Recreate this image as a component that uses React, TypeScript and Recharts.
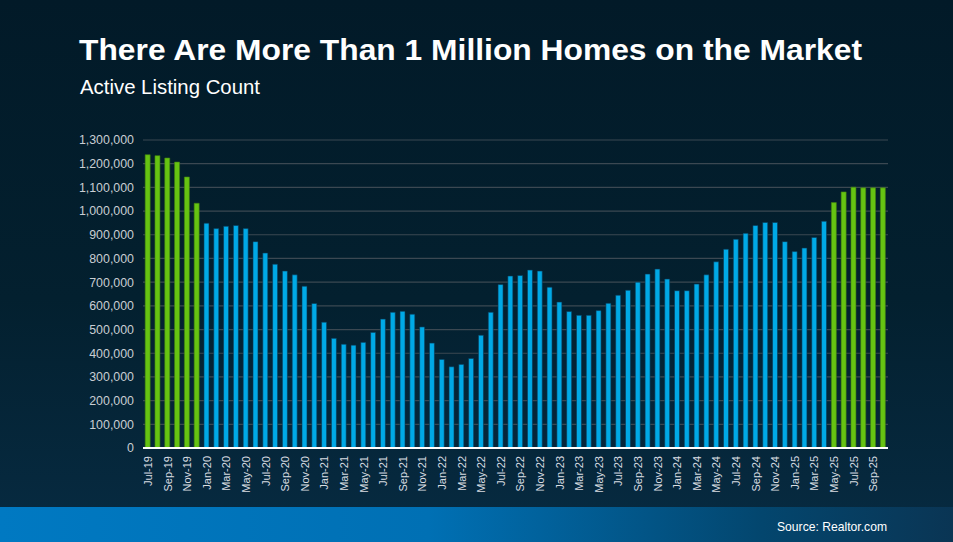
import { BarChart, Bar, XAxis, YAxis, CartesianGrid, Cell, ReferenceLine } from 'recharts';

// Months from Jul-19 to Oct-25
const months = [
  'Jul-19', 'Aug-19', 'Sep-19', 'Oct-19', 'Nov-19', 'Dec-19',
  'Jan-20', 'Feb-20', 'Mar-20', 'Apr-20', 'May-20', 'Jun-20', 'Jul-20', 'Aug-20', 'Sep-20', 'Oct-20', 'Nov-20', 'Dec-20',
  'Jan-21', 'Feb-21', 'Mar-21', 'Apr-21', 'May-21', 'Jun-21', 'Jul-21', 'Aug-21', 'Sep-21', 'Oct-21', 'Nov-21', 'Dec-21',
  'Jan-22', 'Feb-22', 'Mar-22', 'Apr-22', 'May-22', 'Jun-22', 'Jul-22', 'Aug-22', 'Sep-22', 'Oct-22', 'Nov-22', 'Dec-22',
  'Jan-23', 'Feb-23', 'Mar-23', 'Apr-23', 'May-23', 'Jun-23', 'Jul-23', 'Aug-23', 'Sep-23', 'Oct-23', 'Nov-23', 'Dec-23',
  'Jan-24', 'Feb-24', 'Mar-24', 'Apr-24', 'May-24', 'Jun-24', 'Jul-24', 'Aug-24', 'Sep-24', 'Oct-24', 'Nov-24', 'Dec-24',
  'Jan-25', 'Feb-25', 'Mar-25', 'Apr-25', 'May-25', 'Jun-25', 'Jul-25', 'Aug-25', 'Sep-25', 'Oct-25',
];

const listings = [
  1238000, 1234000, 1224000, 1207000, 1144000, 1033000,
  949000, 926000, 936000, 939000, 926000, 871000, 823000, 776000, 747000, 731000, 683000, 610000,
  531000, 463000, 438000, 434000, 446000, 488000, 544000, 573000, 577000, 565000, 511000, 443000,
  374000, 343000, 353000, 378000, 476000, 573000, 690000, 726000, 728000, 751000, 747000, 679000,
  616000, 576000, 560000, 560000, 580000, 611000, 645000, 666000, 700000, 734000, 755000, 713000,
  664000, 664000, 692000, 731000, 786000, 839000, 881000, 906000, 939000, 952000, 952000, 871000,
  829000, 844000, 889000, 957000, 1036000, 1081000, 1101000, 1098000, 1098000, 1098000,
];

// months drawn in green (pre-2020 and from May-25 on)
const highlighted = [
  'Jul-19', 'Aug-19', 'Sep-19', 'Oct-19', 'Nov-19', 'Dec-19',
  'May-25', 'Jun-25', 'Jul-25', 'Aug-25', 'Sep-25', 'Oct-25',
];

const yTicks = [0, 100000, 200000, 300000, 400000, 500000, 600000, 700000, 800000, 900000, 1000000, 1100000, 1200000, 1300000];

const data = months.map((m, i) => ({ month: m, count: listings[i] }));

const FONT = '"Liberation Sans", Arial, sans-serif';

const MonthTick = (props: any) => {
  const { x, y, payload } = props;
  return (
    <g transform={`translate(${x},${y})`}>
      <text
        x={0}
        y={0}
        dy={4}
        transform="rotate(-90)"
        textAnchor="end"
        fill="#d9dde2"
        fontSize={11}
        fontFamily={FONT}
      >
        {payload.value}
      </text>
    </g>
  );
};

export default function App() {
  return (
    <div
      style={{
        position: 'absolute',
        left: 0,
        top: 0,
        width: 953,
        height: 542,
        overflow: 'hidden',
        background: 'linear-gradient(180deg, #021a28 0%, #03202f 55%, #072b42 100%)',
        fontFamily: FONT,
      }}
    >
      <svg width={953} height={120} style={{ position: 'absolute', left: 0, top: 0 }}>
        <text
          x={79}
          y={60}
          fill="#ffffff"
          fontSize={29.5}
          fontWeight="bold"
          fontFamily={FONT}
          textLength={783}
          lengthAdjust="spacingAndGlyphs"
        >
          There Are More Than 1 Million Homes on the Market
        </text>
        <text
          x={80}
          y={94}
          fill="#ffffff"
          fontSize={21}
          fontFamily={FONT}
          textLength={180}
          lengthAdjust="spacingAndGlyphs"
        >
          Active Listing Count
        </text>
      </svg>

      <div style={{ position: 'absolute', left: 0, top: 0 }}>
        <BarChart
          width={953}
          height={507}
          data={data}
          margin={{ top: 140, right: 65, left: 0, bottom: 0 }}
          barCategoryGap="22%"
        >
          <CartesianGrid vertical={false} stroke="#3b4852" strokeWidth={1.2} />
          <XAxis
            dataKey="month"
            interval={1}
            tick={<MonthTick />}
            tickLine={false}
            axisLine={false}
            height={59}
          />
          <YAxis
            width={143}
            domain={[0, 1300000]}
            ticks={yTicks}
            interval={0}
            tickFormatter={(v: number) => v.toLocaleString('en-US')}
            tick={{ fill: '#c9ced3', fontSize: 12.4, fontFamily: FONT }}
            tickLine={false}
            axisLine={false}
            tickMargin={3}
          />
          <Bar dataKey="count" isAnimationActive={false} stroke="#0b3550" strokeWidth={0.6}>
            {data.map((d) => (
              <Cell
                key={d.month}
                fill={highlighted.includes(d.month) ? '#66c312' : '#00a9e6'}
                stroke={highlighted.includes(d.month) ? '#3f7f10' : '#0b3550'}
              />
            ))}
          </Bar>
          <ReferenceLine y={0} stroke="#ffffff" strokeWidth={2} />
        </BarChart>
      </div>

      <div
        style={{
          position: 'absolute',
          left: 0,
          top: 507,
          width: 953,
          height: 35,
          background: 'linear-gradient(90deg, #0079c2 0%, #0070b4 45%, #03466e 80%, #0a3554 100%)',
        }}
      >
        <svg width={953} height={35} style={{ position: 'absolute', left: 0, top: 0 }}>
          <text
            x={777}
            y={24}
            fill="#ffffff"
            fontSize={13}
            fontFamily={FONT}
            textLength={110}
            lengthAdjust="spacingAndGlyphs"
          >
            Source: Realtor.com
          </text>
        </svg>
      </div>
    </div>
  );
}
